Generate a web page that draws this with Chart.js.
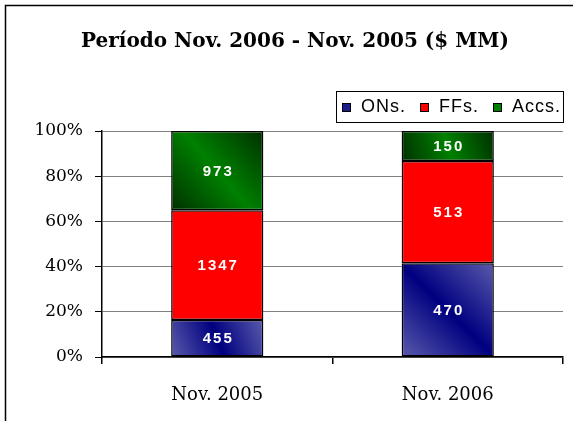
<!DOCTYPE html>
<html><head><meta charset="utf-8">
<script src="https://cdn.jsdelivr.net/npm/chart.js@4"></script>
<style>html,body{margin:0;padding:0;background:#fff;overflow:hidden}canvas{display:block}</style>
</head><body>
<canvas id="c" width="573" height="421"></canvas>
<script>
const chartTitle = 'Período Nov. 2006 - Nov. 2005 ($ MM)';
const categories = ['Nov. 2005', 'Nov. 2006'];
const seriesNames = ['ONs.', 'FFs.', 'Accs.'];
const onsValues = [455, 470];
const ffsValues = [1347, 513];
const accsValues = [973, 150];
const yTickValues = [0, 20, 40, 60, 80, 100];

const rawSeries = [onsValues, ffsValues, accsValues];
const totals = categories.map((_, i) => rawSeries.reduce((s, a) => s + a[i], 0));
const pctSeries = rawSeries.map(a => a.map((v, i) => v / totals[i] * 100));

const solidColors = ['#1a1a8c', '#ff0000', '#007a00'];
const legendColors = ['#1c1c8a', '#ff0000', '#008000'];

function barBounds(ctx) {
  const chart = ctx.chart;
  const xs = chart.scales && chart.scales.x, ys = chart.scales && chart.scales.y;
  if (!chart.chartArea || !xs || !ys || ctx.dataIndex === undefined) return null;
  const i = ctx.dataIndex, d = ctx.datasetIndex;
  const cx = xs.getPixelForValue(i);
  const half = (xs.getPixelForValue(1) - xs.getPixelForValue(0)) * 0.4 / 2;
  let start = 0;
  for (let k = 0; k < d; k++) start += pctSeries[k][i];
  const end = start + pctSeries[d][i];
  return {x0: cx - half, x1: cx + half, yt: ys.getPixelForValue(end), yb: ys.getPixelForValue(start)};
}
function gradientFill(stops, fallback) {
  return (ctx) => {
    const b = barBounds(ctx);
    if (!b) return fallback;
    const g = ctx.chart.ctx.createLinearGradient(b.x0, b.yb, b.x1, b.yt);
    stops.forEach(s => g.addColorStop(s[0], s[1]));
    return g;
  };
}
const fills = [
  gradientFill([[0, '#5a5aac'], [0.5, '#000080'], [1, '#5a5aac']], solidColors[0]),
  '#ff0000',
  gradientFill([[0, '#003000'], [0.5, '#008000'], [1, '#003000']], solidColors[2])
];

const frameAndLegend = {
  id: 'frameAndLegend',
  beforeDraw(chart) {
    const c = chart.ctx;
    c.save();
    c.fillStyle = '#fff';
    c.fillRect(0, 0, chart.width, chart.height);
    c.strokeStyle = '#000';
    c.lineWidth = 1.5;
    c.beginPath();
    c.moveTo(5.5, chart.height + 2); c.lineTo(5.5, 5.5); c.lineTo(chart.width + 2, 5.5);
    c.stroke();
    c.restore();
  },
  afterDraw(chart) {
    const c = chart.ctx;
    const area = chart.chartArea;
    c.save();
    c.font = '18px "Liberation Sans", Arial, sans-serif';
    c.letterSpacing = '1px';
    const box = 8, gapText = 11, gapItem = 14, padL = 6, padR = 2;
    const widths = seriesNames.map(n => c.measureText(n).width);
    let total = padL + padR;
    widths.forEach((w, k) => { total += box + gapText + w + (k < widths.length - 1 ? gapItem : 0); });
    const right = area.right, bottom = area.top - 9, h = 31;
    const left = right - total, top = bottom - h;
    c.strokeStyle = '#000';
    c.lineWidth = 1;
    c.strokeRect(Math.round(left) + 0.5, Math.round(top) + 0.5, Math.round(total), h);
    const cy = top + h / 2;
    let x = left + padL;
    c.textBaseline = 'middle';
    c.textAlign = 'left';
    seriesNames.forEach((n, k) => {
      c.fillStyle = legendColors[k];
      c.fillRect(Math.round(x) + 0.5, Math.round(cy - 4) + 0.5, box, box);
      c.strokeStyle = '#000';
      c.strokeRect(Math.round(x) + 0.5, Math.round(cy - 4) + 0.5, box, box);
      x += box + gapText;
      c.fillStyle = '#000';
      c.fillText(n, x, cy + 1);
      x += widths[k] + gapItem;
    });
    c.restore();
  }
};

const valueLabels = {
  id: 'valueLabels',
  afterDatasetsDraw(chart) {
    const c = chart.ctx;
    c.save();
    c.font = 'bold 15px "Liberation Sans", Arial, sans-serif';
    c.letterSpacing = '2px';
    c.fillStyle = '#fff';
    c.textAlign = 'center';
    c.textBaseline = 'middle';
    chart.data.datasets.forEach((ds, d) => {
      chart.getDatasetMeta(d).data.forEach((el, i) => {
        const txt = String(rawSeries[d][i]);
        c.fillText(txt, el.x + 1, (el.y + el.base) / 2 + 1);
      });
    });
    c.restore();
  }
};

new Chart(document.getElementById('c'), {
  type: 'bar',
  data: {
    labels: categories,
    datasets: seriesNames.map((n, k) => ({
      label: n,
      data: pctSeries[k],
      backgroundColor: fills[k],
      borderColor: '#000',
      borderWidth: 1.5,
      borderSkipped: false,
      barPercentage: 0.4,
      categoryPercentage: 1.0
    }))
  },
  options: {
    responsive: false,
    animation: false,
    devicePixelRatio: 1,
    layout: {padding: {left: 27, right: 10, top: 0, bottom: 0}},
    plugins: {
      legend: {display: false},
      tooltip: {enabled: false},
      title: {
        display: true,
        text: chartTitle,
        color: '#000',
        font: {family: '"DejaVu Serif", serif', size: 20, weight: 'bold', lineHeight: 1.2},
        padding: {top: 30, bottom: 77}
      }
    },
    scales: {
      x: {
        stacked: true,
        afterFit: s => { s.height = 64; },
        grid: {
          offset: true,
          color: c => c.index === categories.length ? '#808080' : 'rgba(0,0,0,0)',
          tickColor: c => c.index === categories.length ? '#808080' : '#000',
          tickLength: 7,
          lineWidth: 1.5
        },
        border: {color: '#000', width: 1.5},
        ticks: {color: '#000', padding: 21, font: {family: '"DejaVu Serif", serif', size: 18}}
      },
      y: {
        stacked: true,
        min: 0, max: 100,
        afterFit: s => { s.width = 75; },
        afterBuildTicks: s => { s.ticks = yTickValues.map(v => ({value: v})); },
        grid: {color: '#808080', tickColor: '#000', tickLength: 7, lineWidth: 1},
        border: {color: '#000', width: 1.5},
        ticks: {color: '#000', padding: 12, font: {family: '"DejaVu Serif", serif', size: 17},
          callback: v => v + '%'}
      }
    }
  },
  plugins: [frameAndLegend, valueLabels]
});
</script>
</body></html>
